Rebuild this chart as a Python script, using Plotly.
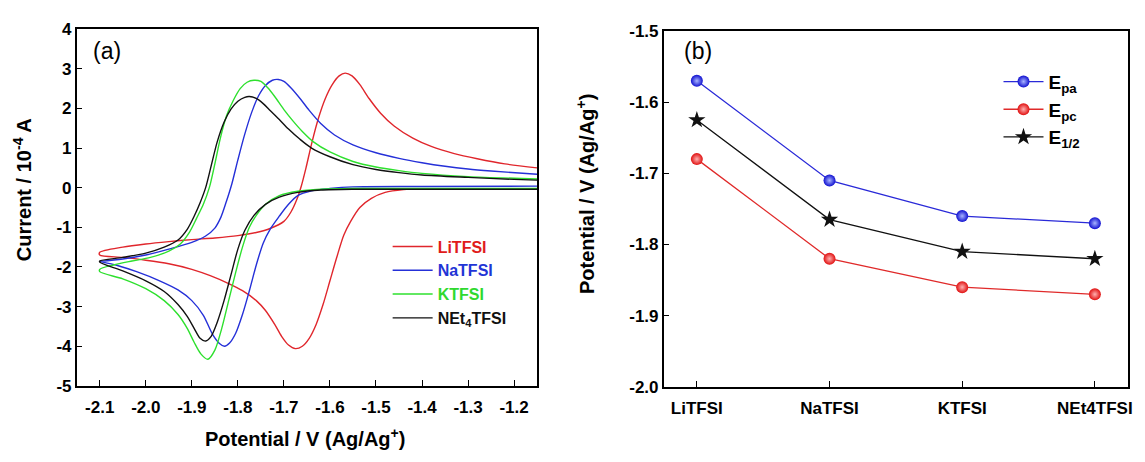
import plotly.graph_objects as go

# ---------------- Panel (a): cyclic voltammograms ----------------
# forward (reduction) branch, right -> left
li_E_red = [-1.15, -1.30, -1.40, -1.44, -1.48, -1.51, -1.535, -1.555, -1.57, -1.585, -1.60, -1.615,
            -1.63, -1.645, -1.66, -1.675, -1.69, -1.705, -1.72, -1.74, -1.76, -1.79, -1.82, -1.86,
            -1.90, -1.95, -2.00, -2.05, -2.10]
li_I_red = [-0.03, -0.03, -0.03, -0.05, -0.12, -0.27, -0.5, -0.85, -1.2, -1.75, -2.35, -2.95,
            -3.45, -3.8, -4.0, -4.06, -3.97, -3.75, -3.45, -3.1, -2.85, -2.6, -2.42, -2.22,
            -2.06, -1.92, -1.83, -1.76, -1.70]
# reverse (oxidation) branch, left -> right
li_E_ox = [-2.10, -2.05, -2.00, -1.95, -1.90, -1.85, -1.80, -1.76, -1.73, -1.70, -1.685, -1.672,
           -1.662, -1.652, -1.64, -1.625, -1.61, -1.595, -1.58, -1.567, -1.552, -1.535, -1.515,
           -1.49, -1.46, -1.42, -1.38, -1.33, -1.28, -1.22, -1.15]
li_I_ox = [-1.63, -1.50, -1.42, -1.36, -1.31, -1.27, -1.21, -1.13, -1.03, -0.85, -0.62, -0.3,
           0.05, 0.5, 1.1, 1.75, 2.25, 2.6, 2.82, 2.89, 2.82, 2.6, 2.25,
           1.88, 1.55, 1.25, 1.04, 0.86, 0.73, 0.6, 0.5]

na_E_red = [-1.15, -1.40, -1.55, -1.60, -1.64, -1.67, -1.69, -1.71, -1.73, -1.745, -1.76, -1.775,
            -1.79, -1.805, -1.818, -1.829, -1.84, -1.855, -1.875, -1.90, -1.93, -1.97, -2.02,
            -2.06, -2.10]
na_I_red = [0.04, 0.03, 0.02, -0.02, -0.08, -0.2, -0.42, -0.72, -1.05, -1.4, -1.95, -2.6,
            -3.2, -3.68, -3.92, -4.0, -3.93, -3.7, -3.22, -2.85, -2.58, -2.35, -2.12,
            -1.97, -1.86]
na_E_ox = [-2.10, -2.05, -2.00, -1.95, -1.90, -1.87, -1.85, -1.837, -1.825, -1.813, -1.80, -1.785,
           -1.77, -1.755, -1.74, -1.725, -1.712, -1.70, -1.685, -1.665, -1.645, -1.62, -1.59,
           -1.55, -1.50, -1.45, -1.40, -1.35, -1.30, -1.25, -1.15]
na_I_ox = [-1.86, -1.80, -1.70, -1.55, -1.38, -1.22, -1.02, -0.75, -0.35, 0.1, 0.7, 1.35,
           1.9, 2.32, 2.58, 2.71, 2.73, 2.68, 2.52, 2.25, 1.95, 1.62, 1.33,
           1.08, 0.88, 0.74, 0.63, 0.54, 0.47, 0.42, 0.34]

k_E_red = [-1.15, -1.55, -1.62, -1.67, -1.71, -1.74, -1.76, -1.775, -1.79, -1.805, -1.82, -1.835,
           -1.85, -1.865, -1.88, -1.895, -1.91, -1.93, -1.96, -2.00, -2.05, -2.10]
k_I_red = [-0.02, -0.02, -0.04, -0.09, -0.2, -0.42, -0.7, -1.0, -1.5, -2.15, -2.85, -3.55,
           -4.1, -4.33, -4.2, -3.9, -3.55, -3.2, -2.85, -2.55, -2.3, -2.12]
k_E_ox = [-2.10, -2.07, -2.03, -1.99, -1.95, -1.925, -1.905, -1.89, -1.875, -1.862, -1.85, -1.838,
          -1.825, -1.81, -1.795, -1.78, -1.765, -1.75, -1.735, -1.72, -1.70, -1.68, -1.66,
          -1.635, -1.60, -1.55, -1.50, -1.45, -1.40, -1.30, -1.15]
k_I_ox = [-2.06, -1.95, -1.85, -1.76, -1.6, -1.42, -1.12, -0.78, -0.42, 0.0, 0.6, 1.25,
          1.8, 2.2, 2.5, 2.66, 2.71, 2.68, 2.52, 2.3, 1.97, 1.68, 1.42,
          1.15, 0.9, 0.66, 0.52, 0.43, 0.36, 0.28, 0.22]

ne_E_red = [-1.15, -1.55, -1.62, -1.67, -1.71, -1.74, -1.765, -1.785, -1.80, -1.815, -1.83, -1.845,
            -1.858, -1.87, -1.882, -1.895, -1.91, -1.93, -1.96, -2.00, -2.05, -2.10]
ne_I_red = [-0.04, -0.04, -0.06, -0.12, -0.24, -0.42, -0.7, -1.08, -1.55, -2.2, -2.85, -3.4,
            -3.75, -3.87, -3.8, -3.55, -3.25, -2.95, -2.62, -2.35, -2.1, -1.88]
ne_E_ox = [-2.10, -2.05, -2.00, -1.96, -1.93, -1.91, -1.895, -1.882, -1.87, -1.858, -1.845, -1.83,
           -1.815, -1.80, -1.785, -1.775, -1.76, -1.745, -1.73, -1.71, -1.69, -1.665, -1.64,
           -1.60, -1.55, -1.50, -1.45, -1.40, -1.30, -1.20, -1.15]
ne_I_ox = [-1.85, -1.76, -1.65, -1.5, -1.32, -1.05, -0.72, -0.38, 0.0, 0.55, 1.15, 1.65,
           1.98, 2.18, 2.28, 2.3, 2.25, 2.12, 1.95, 1.72, 1.48, 1.22, 1.0,
           0.78, 0.58, 0.46, 0.38, 0.32, 0.26, 0.21, 0.19]

cv_names = ["LiTFSI", "NaTFSI", "KTFSI", "NEt<sub>4</sub>TFSI"]
cv_colors = ["#e0262c", "#2530d8", "#2ee02e", "#111111"]
cv_text_colors = ["#e01b1b", "#1f35d6", "#2fd92f", "#111111"]

x_ticks_a = [-2.1, -2.0, -1.9, -1.8, -1.7, -1.6, -1.5, -1.4, -1.3, -1.2]
x_ticktext_a = ["-2.1", "-2.0", "-1.9", "-1.8", "-1.7", "-1.6", "-1.5", "-1.4", "-1.3", "-1.2"]
y_ticks_a = [4, 3, 2, 1, 0, -1, -2, -3, -4, -5]
y_ticktext_a = ["4", "3", "2", "1", "0", "-1", "-2", "-3", "-4", "-5"]

# ---------------- Panel (b): peak potentials ----------------
salts = ["LiTFSI", "NaTFSI", "KTFSI", "NEt4TFSI"]
E_pa = [-1.57, -1.71, -1.76, -1.77]
E_pc = [-1.68, -1.82, -1.86, -1.87]
E_half = [-1.625, -1.765, -1.81, -1.82]
y_ticks_b = [-1.5, -1.6, -1.7, -1.8, -1.9, -2.0]
y_ticktext_b = ["-1.5", "-1.6", "-1.7", "-1.8", "-1.9", "-2.0"]

FONT = "Liberation Sans, Arial, sans-serif"


def bold(labels):
    return ["<b>%s</b>" % s for s in labels]


fig = go.Figure()

cv_data = [(li_E_red + li_E_ox, li_I_red + li_I_ox),
           (na_E_red + na_E_ox, na_I_red + na_I_ox),
           (k_E_red + k_E_ox, k_I_red + k_I_ox),
           (ne_E_red + ne_E_ox, ne_I_red + ne_I_ox)]

for (E, I), name, col, tcol in zip(cv_data, cv_names, cv_colors, cv_text_colors):
    fig.add_trace(go.Scatter(
        x=E, y=I, mode="lines",
        line=dict(color=col, width=1.4, shape="spline", smoothing=0.8),
        name="<b><span style='color:%s'>%s</span></b>" % (tcol, name),
        xaxis="x", yaxis="y", legend="legend"))

fig.add_trace(go.Scatter(
    x=salts, y=E_pa, mode="lines+markers", name="<b>E<sub>pa</sub></b>",
    line=dict(color="#2a2ad8", width=1.3),
    marker=dict(symbol="circle", size=12, color="#1010d0",
                gradient=dict(type="radial", color="#a8b4ff"),
                line=dict(width=0)),
    xaxis="x2", yaxis="y2", legend="legend2"))
fig.add_trace(go.Scatter(
    x=salts, y=E_pc, mode="lines+markers", name="<b>E<sub>pc</sub></b>",
    line=dict(color="#e02a2a", width=1.3),
    marker=dict(symbol="circle", size=12, color="#e01010",
                gradient=dict(type="radial", color="#ffb0b0"),
                line=dict(width=0)),
    xaxis="x2", yaxis="y2", legend="legend2"))
fig.add_trace(go.Scatter(
    x=salts, y=E_half, mode="lines+markers", name="<b>E<sub>1/2</sub></b>",
    line=dict(color="#111111", width=1.3),
    marker=dict(symbol="star", size=13, color="#111111", line=dict(width=0)),
    xaxis="x2", yaxis="y2", legend="legend2"))

axis_common = dict(
    showline=True, linecolor="black", linewidth=1.5, mirror=True,
    ticks="inside", ticklen=6, tickwidth=1.3, tickcolor="black",
    showgrid=False, zeroline=False,
    tickfont=dict(family=FONT, size=17, color="black", weight="bold"),
)

fig.update_layout(
    width=1145, height=462,
    margin=dict(l=0, r=0, t=0, b=0),
    paper_bgcolor="white", plot_bgcolor="white",
    font=dict(family=FONT, color="black"),
    xaxis=dict(domain=[77 / 1145, 539 / 1145], range=[-2.15, -1.15],
               tickvals=x_ticks_a, ticktext=bold(x_ticktext_a), anchor="y",
               ticklabelstandoff=5, **axis_common),
    yaxis=dict(domain=[1 - 393 / 462, 1 - 21 / 462], range=[-5, 4],
               tickvals=y_ticks_a, ticktext=bold(y_ticktext_a), anchor="x", **axis_common),
    xaxis2=dict(domain=[666 / 1145, 1132 / 1145], type="category", range=[-0.25, 3.25],
                tickvals=salts, ticktext=bold(salts),
                anchor="y2", ticklabelstandoff=5, **axis_common),
    yaxis2=dict(domain=[1 - 394 / 462, 1 - 23 / 462], range=[-2.0, -1.5],
                tickvals=y_ticks_b, ticktext=bold(y_ticktext_b), anchor="x2", **axis_common),
    legend=dict(x=389 / 1145, y=1 - 230 / 462, xanchor="left", yanchor="top",
                bgcolor="rgba(0,0,0,0)", borderwidth=0, itemwidth=40,
                font=dict(family=FONT, size=16, color="black"),
                tracegroupgap=0),
    legend2=dict(x=1002 / 1145, y=1 - 56 / 462, xanchor="left", yanchor="top",
                 bgcolor="rgba(0,0,0,0)", borderwidth=0, itemwidth=40,
                 font=dict(family=FONT, size=19, color="black"),
                 tracegroupgap=0),
    showlegend=True,
)

annotations = [
    dict(text="(a)", x=107 / 1145, y=1 - 44 / 462, font=dict(family=FONT, size=23)),
    dict(text="(b)", x=700 / 1145, y=1 - 44 / 462, font=dict(family=FONT, size=23)),
    dict(text="<b>Potential / V (Ag/Ag<sup>+</sup>)</b>", x=306 / 1145, y=1 - 447 / 462,
         font=dict(family=FONT, size=20)),
    dict(text="<b>Current / 10<sup>-4</sup> A</b>", x=22 / 1145, y=1 - 188 / 462,
         textangle=-90, font=dict(family=FONT, size=20)),
    dict(text="<b>Potential / V (Ag/Ag<sup>+</sup>)</b>", x=587 / 1145, y=1 - 193 / 462,
         textangle=-90, font=dict(family=FONT, size=20)),
]
for a in annotations:
    a.update(xref="paper", yref="paper", showarrow=False, xanchor="center", yanchor="middle")
fig.update_layout(annotations=annotations)

fig.write_html("out.html")
